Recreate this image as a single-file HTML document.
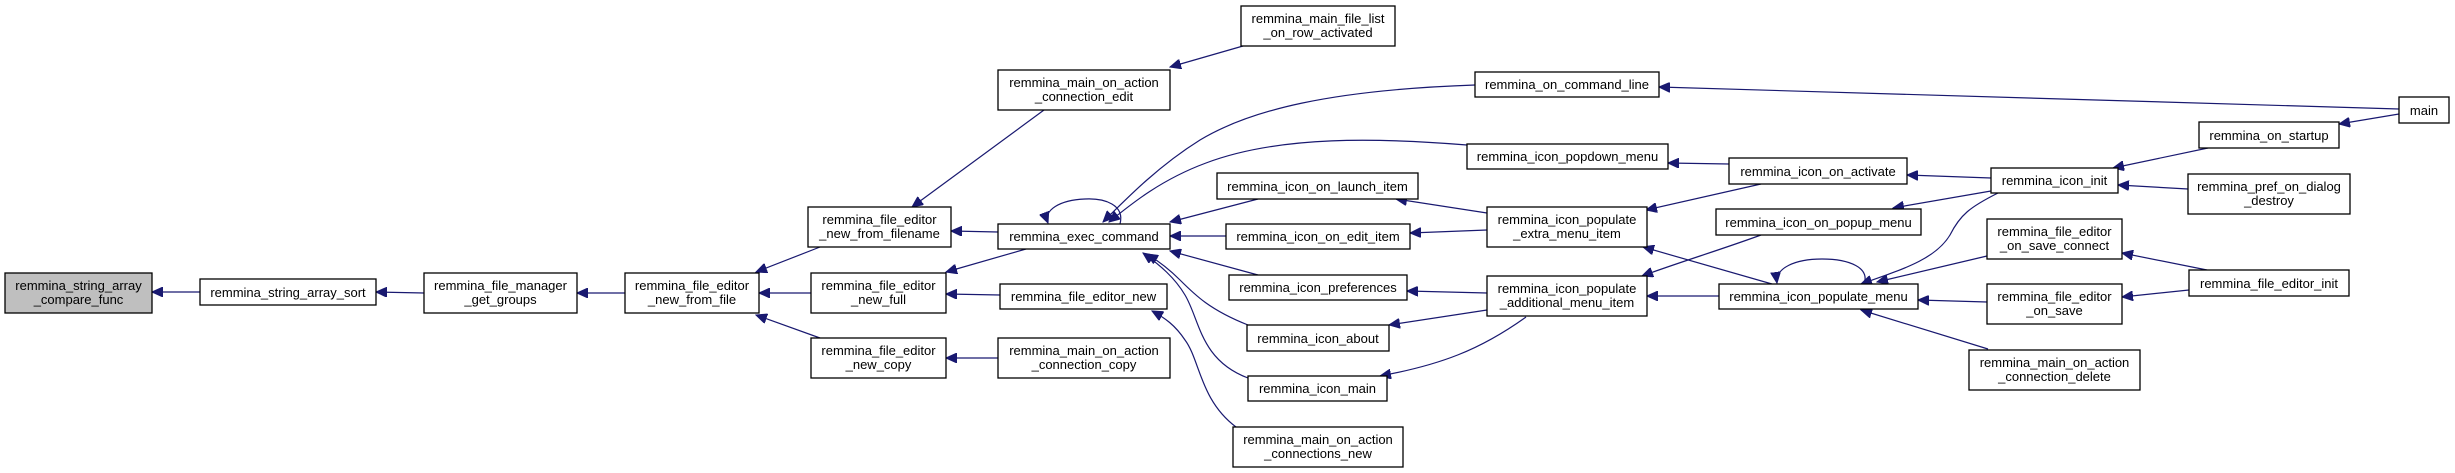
<!DOCTYPE html>
<html><head><meta charset="utf-8"><style>
html,body{margin:0;padding:0;background:#fff}
svg{display:block}
text{font-family:"Liberation Sans",Arial,sans-serif;font-size:13px;fill:#000;text-anchor:middle}
rect{fill:#fff;stroke:#000;stroke-width:1.3}
path{fill:none;stroke:#191970;stroke-width:1.2}
</style></head><body>
<svg width="2455" height="473" viewBox="0 0 2455 473" xmlns="http://www.w3.org/2000/svg">
<defs><marker id="a" markerWidth="12" markerHeight="10" refX="11" refY="5" orient="auto" markerUnits="userSpaceOnUse"><polygon points="0,0 11,5 0,10" fill="#191970" stroke="#191970"/></marker></defs>
<g marker-end="url(#a)">
<path d="M200,292 L152,292"/>
<path d="M424,293 L376,292"/>
<path d="M625,293 L759,293" style="display:none"/>
<path d="M625,293 L577,293"/>
<path d="M820,247 L756,272"/>
<path d="M811,293 L759,293"/>
<path d="M820,338 L756,315"/>
<path d="M1044,110 L912,207"/>
<path d="M998,232 L951,231"/>
<path d="M1026,249 L946,272"/>
<path d="M1000,295 L946,294"/>
<path d="M998,358 L946,358"/>
<path d="M1243,46 L1170,67"/>
<path d="M1475,85 C1330,90 1250,110 1200,140 C1160,165 1130,195 1103,222"/>
<path d="M1467,145 C1380,138 1280,135 1206,163 C1160,180 1130,205 1109,222"/>
<path d="M1120,224 C1125,205 1105,198 1085,199 C1060,200 1043,210 1048,223"/>
<path d="M1258,199 L1170,222"/>
<path d="M1226,236 L1170,236"/>
<path d="M1258,275 L1170,251"/>
<path d="M1248,325 C1210,310 1195,295 1180,280 C1170,270 1160,262 1147,254"/>
<path d="M1248,378 C1200,360 1200,320 1185,295 C1175,278 1160,265 1143,253"/>
<path d="M1236,427 C1200,400 1200,360 1185,340 C1175,325 1165,318 1152,311"/>
<path d="M1487,213 L1396,199"/>
<path d="M1487,230 L1410,233"/>
<path d="M1487,293 L1407,291"/>
<path d="M1487,310 L1389,325"/>
<path d="M1526,317 C1480,350 1440,365 1380,376"/>
<path d="M1729,164 L1668,163"/>
<path d="M1761,184 L1646,210"/>
<path d="M1761,235 C1720,250 1680,262 1642,276"/>
<path d="M1772,284 L1643,247"/>
<path d="M1719,296 L1647,296"/>
<path d="M1864,284 C1870,268 1850,259 1822,259 C1795,259 1775,268 1777,283"/>
<path d="M1991,178 L1907,175"/>
<path d="M1991,191 L1893,208"/>
<path d="M1998,193 C1970,207 1960,215 1950,235 C1935,260 1900,270 1861,284"/>
<path d="M2208,148 L2113,168"/>
<path d="M2188,189 L2118,185"/>
<path d="M2399,109 L1659,87"/>
<path d="M2399,114 L2339,124"/>
<path d="M1987,256 L1877,282"/>
<path d="M1987,302 L1918,300"/>
<path d="M1988,349 L1861,310"/>
<path d="M2207,270 L2122,253"/>
<path d="M2189,290 L2122,297"/>
</g>
<rect x="5" y="273" width="147" height="40" style="fill:#bfbfbf"/><text x="78.5" y="290">remmina_string_array</text><text x="78.5" y="304">_compare_func</text>
<rect x="200" y="279" width="176" height="26"/><text x="288" y="297">remmina_string_array_sort</text>
<rect x="424" y="273" width="153" height="40"/><text x="500.5" y="290">remmina_file_manager</text><text x="500.5" y="304">_get_groups</text>
<rect x="625" y="273" width="134" height="40"/><text x="692" y="290">remmina_file_editor</text><text x="692" y="304">_new_from_file</text>
<rect x="1241" y="6" width="154" height="40"/><text x="1318" y="23">remmina_main_file_list</text><text x="1318" y="37">_on_row_activated</text>
<rect x="998" y="70" width="172" height="40"/><text x="1084" y="87">remmina_main_on_action</text><text x="1084" y="101">_connection_edit</text>
<rect x="1475" y="72" width="184" height="25"/><text x="1567" y="89">remmina_on_command_line</text>
<rect x="1467" y="144" width="201" height="25"/><text x="1567.5" y="161">remmina_icon_popdown_menu</text>
<rect x="1217" y="173" width="201" height="26"/><text x="1317.5" y="191">remmina_icon_on_launch_item</text>
<rect x="808" y="207" width="143" height="40"/><text x="879.5" y="224">remmina_file_editor</text><text x="879.5" y="238">_new_from_filename</text>
<rect x="998" y="224" width="172" height="25"/><text x="1084" y="241">remmina_exec_command</text>
<rect x="1226" y="224" width="184" height="25"/><text x="1318" y="241">remmina_icon_on_edit_item</text>
<rect x="1487" y="207" width="160" height="40"/><text x="1567" y="224">remmina_icon_populate</text><text x="1567" y="238">_extra_menu_item</text>
<rect x="811" y="273" width="135" height="40"/><text x="878.5" y="290">remmina_file_editor</text><text x="878.5" y="304">_new_full</text>
<rect x="1000" y="284" width="167" height="25"/><text x="1083.5" y="301">remmina_file_editor_new</text>
<rect x="1229" y="275" width="178" height="25"/><text x="1318" y="292">remmina_icon_preferences</text>
<rect x="1487" y="276" width="160" height="40"/><text x="1567" y="293">remmina_icon_populate</text><text x="1567" y="307">_additional_menu_item</text>
<rect x="1247" y="325" width="142" height="26"/><text x="1318" y="343">remmina_icon_about</text>
<rect x="811" y="338" width="135" height="40"/><text x="878.5" y="355">remmina_file_editor</text><text x="878.5" y="369">_new_copy</text>
<rect x="998" y="338" width="172" height="40"/><text x="1084" y="355">remmina_main_on_action</text><text x="1084" y="369">_connection_copy</text>
<rect x="1248" y="376" width="139" height="25"/><text x="1317.5" y="393">remmina_icon_main</text>
<rect x="1233" y="427" width="170" height="40"/><text x="1318" y="444">remmina_main_on_action</text><text x="1318" y="458">_connections_new</text>
<rect x="2399" y="97" width="50" height="26"/><text x="2424" y="115">main</text>
<rect x="2199" y="122" width="140" height="26"/><text x="2269" y="140">remmina_on_startup</text>
<rect x="1729" y="158" width="178" height="26"/><text x="1818" y="176">remmina_icon_on_activate</text>
<rect x="1991" y="168" width="127" height="25"/><text x="2054.5" y="185">remmina_icon_init</text>
<rect x="2188" y="174" width="162" height="40"/><text x="2269" y="191">remmina_pref_on_dialog</text><text x="2269" y="205">_destroy</text>
<rect x="1716" y="209" width="205" height="26"/><text x="1818.5" y="227">remmina_icon_on_popup_menu</text>
<rect x="1987" y="219" width="135" height="40"/><text x="2054.5" y="236">remmina_file_editor</text><text x="2054.5" y="250">_on_save_connect</text>
<rect x="2189" y="270" width="160" height="26"/><text x="2269" y="288">remmina_file_editor_init</text>
<rect x="1719" y="284" width="199" height="25"/><text x="1818.5" y="301">remmina_icon_populate_menu</text>
<rect x="1987" y="284" width="135" height="40"/><text x="2054.5" y="301">remmina_file_editor</text><text x="2054.5" y="315">_on_save</text>
<rect x="1969" y="350" width="171" height="40"/><text x="2054.5" y="367">remmina_main_on_action</text><text x="2054.5" y="381">_connection_delete</text>
</svg>
</body></html>
